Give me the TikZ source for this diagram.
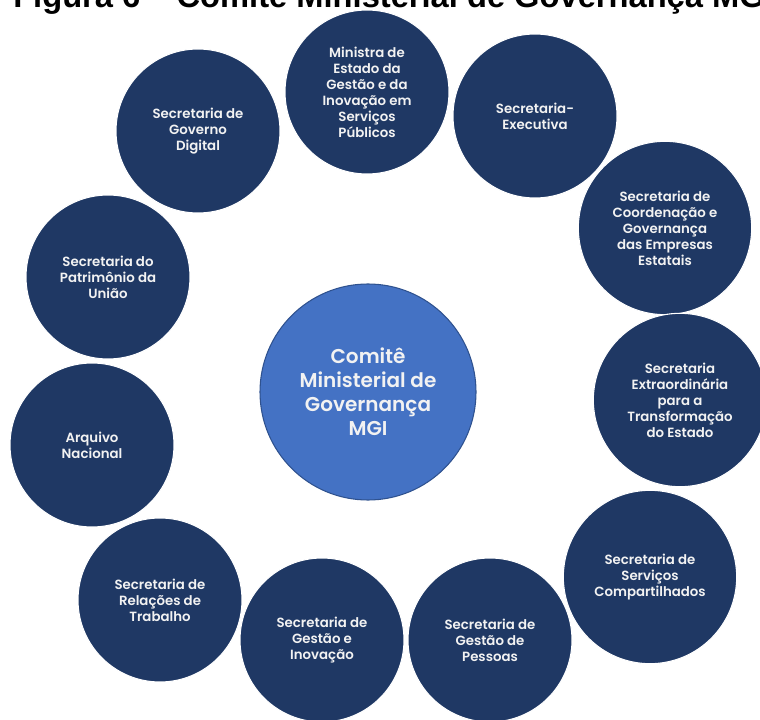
\documentclass[tikz,border=0pt]{standalone}
\usepackage{fontspec}
\setmainfont{Liberation Sans}
\newfontfamily\gothic{Poppins}[UprightFont={* SemiBold}]
\definecolor{navy}{HTML}{1F3864}
\definecolor{comite}{HTML}{4472C4}
\definecolor{comiteborda}{HTML}{2F528F}
\definecolor{texto}{HTML}{F2F2F2}

\begin{document}
\begin{tikzpicture}[x=0.75pt,y=0.75pt,yscale=-1,xscale=1,
	sec/.style={circle,fill=navy,draw=white,line width=0.8pt,minimum size=123pt,inner sep=0pt,
		text=texto,align=center,font=\gothic\fontsize{10}{12}\selectfont},
	secg/.style={sec,minimum size=130pt}]
			\useasboundingbox (0,0) rectangle (760,720);
			\clip (0,0) rectangle (760,720);

			\node[anchor=base west,inner sep=0pt,font=\bfseries\fontsize{24.5}{28}\selectfont] (titulo) at (13,8) {Figura 6 – Comitê Ministerial de Governança MGI};

			\node[sec] (ministra) at (367,92) {Ministra de\\Estado da\\Gestão e da\\Inovação em\\Serviços\\Públicos};
			\node[sec] (executiva) at (535,116) {Secretaria-\\Executiva};
			\node[secg] (estatais) at (665,228) {Secretaria de\\Coordenação e\\Governança\\das Empresas\\Estatais};
			\node[secg] (transformacao) at (680,400) {Secretaria\\Extraordinária\\para a\\Transformação\\do Estado};
			\node[secg] (compartilhados) at (650,577) {Secretaria de\\Serviços\\Compartilhados};
			\node[sec] (pessoas) at (490,640) {Secretaria de\\Gestão de\\Pessoas};
			\node[sec] (inovacao) at (322,640) {Secretaria de\\Gestão e\\Inovação};
			\node[sec] (trabalho) at (160,600) {Secretaria de\\Relações de\\Trabalho};
			\node[sec] (arquivo) at (92,445) {Arquivo\\Nacional};
			\node[sec] (patrimonio) at (108,277) {Secretaria do\\Patrimônio da\\União};
			\node[sec] (digital) at (198,131) {Secretaria de\\Governo\\Digital};

			\node[circle,fill=comite,draw=comiteborda,line width=0.8pt,minimum size=162pt,inner sep=0pt,
				text=texto,align=center,font=\gothic\fontsize{15}{18}\selectfont] (comite) at (368,392) {Comitê\\Ministerial de\\Governança\\MGI};
			\end{tikzpicture}
\end{document}
